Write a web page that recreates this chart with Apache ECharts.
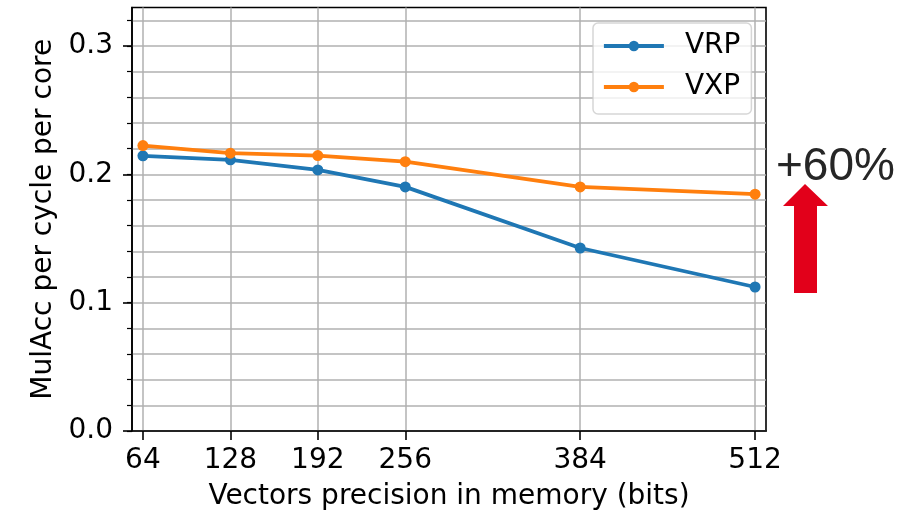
<!DOCTYPE html>
<html>
<head>
<meta charset="utf-8">
<script src="https://cdn.jsdelivr.net/npm/echarts@6/dist/echarts.min.js"></script>
<style>
  html, body { margin: 0; padding: 0; background: #ffffff; }
  #chart { width: 902px; height: 516px; }
</style>
</head>
<body>
<div id="chart"></div>
<script>
// Vector precision (bits) on the x axis
const bits = [64, 128, 192, 256, 384, 512];
// Multiply-accumulate throughput per cycle per core
const vrp = [0.2144, 0.2113, 0.2034, 0.1902, 0.1426, 0.1122];
const vxp = [0.2224, 0.2165, 0.2146, 0.2099, 0.1902, 0.1845];

// Tick positions
const xTicks = [64, 128, 192, 256, 384, 512];
const yMajorTicks = [0, 0.1, 0.2, 0.3];
const yMinorTicks = [0, 0.02, 0.04, 0.06, 0.08, 0.1, 0.12, 0.14, 0.16, 0.18,
                     0.2, 0.22, 0.24, 0.26, 0.28, 0.3, 0.32];

const seriesNames = ['VRP', 'VXP'];
const gainLabel = '+60%';

const FONT = 'DejaVu Sans';
const GRID_COLOR = '#b0b0b0';

const chart = echarts.init(document.getElementById('chart'), null, { renderer: 'canvas' });

const pairs = arr => bits.map((b, i) => [b, arr[i]]);

chart.setOption({
  animation: false,
  backgroundColor: '#ffffff',
  grid: {
    left: 132, right: 136, top: 7.5, bottom: 84,
    show: true, borderColor: '#000', borderWidth: 1.6, backgroundColor: 'transparent'
  },
  legend: {
    data: seriesNames,
    orient: 'vertical',
    left: 593, top: 23,
    itemWidth: 60, itemHeight: 13, itemGap: 11,
    padding: [8, 11, 12, 9],
    borderColor: 'rgba(204,204,204,0.8)', borderWidth: 1.5, borderRadius: 5,
    backgroundColor: 'rgba(255,255,255,0.8)',
    lineStyle: { width: 3.8 },
    textStyle: { fontFamily: FONT, fontSize: 28, color: '#000', lineHeight: 30, padding: [0, 0, 0, 16] }
  },
  xAxis: {
    type: 'value',
    min: 56, max: 520,
    name: 'Vectors precision in memory (bits)',
    nameLocation: 'middle', nameGap: 52,
    nameTextStyle: { fontFamily: FONT, fontSize: 28, color: '#000' },
    axisLine: { show: true, lineStyle: { color: '#000', width: 1.6 } },
    axisTick: { show: true, length: 9, customValues: xTicks, lineStyle: { color: '#000', width: 1.6 } },
    axisLabel: { customValues: xTicks, margin: 16, fontFamily: FONT, fontSize: 28, color: '#000' },
    splitLine: { show: true, lineStyle: { color: GRID_COLOR, width: 1.5 } }
  },
  yAxis: [
    {
      type: 'value',
      min: 0, max: 0.33,
      name: 'MulAcc per cycle per core',
      nameLocation: 'middle', nameGap: 72,
      nameTextStyle: { fontFamily: FONT, fontSize: 28, color: '#000' },
      axisLine: { show: true, lineStyle: { color: '#000', width: 1.6 } },
      axisTick: { show: true, length: 9, customValues: yMajorTicks, lineStyle: { color: '#000', width: 1.6 } },
      axisLabel: { customValues: yMajorTicks, margin: 19, fontFamily: FONT, fontSize: 28, color: '#000',
                   formatter: v => v.toFixed(1) },
      splitLine: { show: false }
    },
    {
      type: 'value',
      position: 'left',
      min: 0, max: 0.33,
      axisLine: { show: false },
      axisTick: { show: true, length: 5, customValues: yMinorTicks, lineStyle: { color: '#000', width: 1.2 } },
      axisLabel: { show: false },
      splitLine: { show: true, lineStyle: { color: GRID_COLOR, width: 1.5 } }
    }
  ],
  series: [
    {
      name: seriesNames[0], type: 'line', yAxisIndex: 0,
      data: pairs(vrp),
      color: '#1f77b4',
      symbol: 'circle', symbolSize: 11,
      lineStyle: { width: 3.8, color: '#1f77b4' },
      itemStyle: { color: '#1f77b4' },
      z: 3
    },
    {
      name: seriesNames[1], type: 'line', yAxisIndex: 0,
      data: pairs(vxp),
      color: '#ff7f0e',
      symbol: 'circle', symbolSize: 11,
      lineStyle: { width: 3.8, color: '#ff7f0e' },
      itemStyle: { color: '#ff7f0e' },
      z: 4
    }
  ],
  graphic: [
    {
      type: 'text', z: 10,
      style: {
        text: gainLabel, x: 776, y: 167,
        font: '46px "Liberation Sans", Arial, sans-serif',
        fill: '#262626', textVerticalAlign: 'middle', verticalAlign: 'middle'
      }
    },
    {
      type: 'polygon', z: 10,
      shape: { points: [[805, 184], [828, 206], [817, 206], [817, 293], [794, 293], [794, 206], [783, 206]] },
      style: { fill: '#e2001a' }
    }
  ]
});
</script>
</body>
</html>
